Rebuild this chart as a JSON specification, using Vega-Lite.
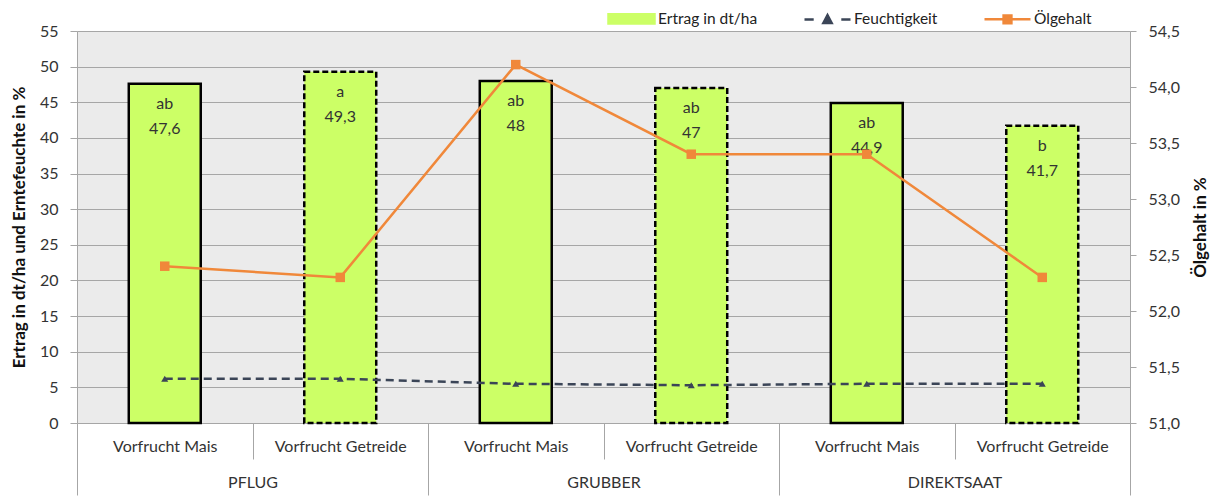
{
  "$schema": "https://vega.github.io/schema/vega-lite/v6.json",
  "width": 1053,
  "height": 392,
  "autosize": {"type": "none"},
  "padding": {"left": 77, "top": 31, "right": 89, "bottom": 73},
  "background": "white",
  "config": {
    "font": "Lato",
    "locale": {"number": {"decimal": ",", "thousands": ".", "grouping": [3], "currency": ["", " €"]}},
    "view": {"fill": "#ebebeb", "stroke": null},
    "axis": {
      "labelFont": "Lato", "labelFontSize": 16, "labelColor": "#333333",
      "titleFont": "Lato", "titleFontSize": 17, "titleFontWeight": "bold", "titleColor": "#111111",
      "domainColor": "#a6a6a6", "tickColor": "#a6a6a6", "gridColor": "#a6a6a6", "labelOverlap": false
    },
    "legend": {"labelFont": "Lato", "labelFontSize": 15.5, "labelColor": "#222222"}
  },
  "data": {
    "values": [
      {"id": "PFLUG · Vorfrucht Mais", "system": "PFLUG", "vorfrucht": "Vorfrucht Mais", "ertrag": 47.6, "sig": "ab", "feuchte": 6.2, "oel": 52.4},
      {"id": "PFLUG · Vorfrucht Getreide", "system": "PFLUG", "vorfrucht": "Vorfrucht Getreide", "ertrag": 49.3, "sig": "a", "feuchte": 6.2, "oel": 52.3},
      {"id": "GRUBBER · Vorfrucht Mais", "system": "GRUBBER", "vorfrucht": "Vorfrucht Mais", "ertrag": 48, "sig": "ab", "feuchte": 5.5, "oel": 54.2},
      {"id": "GRUBBER · Vorfrucht Getreide", "system": "GRUBBER", "vorfrucht": "Vorfrucht Getreide", "ertrag": 47, "sig": "ab", "feuchte": 5.3, "oel": 53.4},
      {"id": "DIREKTSAAT · Vorfrucht Mais", "system": "DIREKTSAAT", "vorfrucht": "Vorfrucht Mais", "ertrag": 44.9, "sig": "ab", "feuchte": 5.5, "oel": 53.4},
      {"id": "DIREKTSAAT · Vorfrucht Getreide", "system": "DIREKTSAAT", "vorfrucht": "Vorfrucht Getreide", "ertrag": 41.7, "sig": "b", "feuchte": 5.5, "oel": 52.3}
    ]
  },
  "layer": [
    {
      "encoding": {
        "x": {
          "field": "id", "type": "nominal", "sort": null,
          "scale": {"paddingInner": 0, "paddingOuter": 0},
          "axis": {
            "title": null, "orient": "bottom", "tickBand": "extent", "tickSize": 36,
            "labelPadding": -13, "labelBaseline": "middle", "labelAngle": 0,
            "labelExpr": "split(datum.value, ' · ')[1]", "domain": false, "grid": false
          }
        }
      },
      "layer": [
        {
          "layer": [
            {
              "mark": {"type": "bar", "width": {"band": 0.41}, "stroke": "black", "strokeWidth": 2.5},
              "encoding": {
                "y": {
                  "field": "ertrag", "type": "quantitative",
                  "scale": {"domain": [0, 55], "nice": false},
                  "axis": {
                    "title": "Ertrag in dt/ha und Erntefeuchte in %", "values": [0, 5, 10, 15, 20, 25, 30, 35, 40, 45, 50, 55],
                    "grid": true, "tickSize": 7, "labelPadding": 12, "titlePadding": 11
                  }
                },
                "color": {
                  "datum": "Ertrag in dt/ha",
                  "scale": {"domain": ["Ertrag in dt/ha", "Feuchtigkeit", "Ölgehalt"], "range": ["#ccff66", "#3b4557", "#f0883a"]},
                  "legend": {
                    "title": null, "orient": "none", "legendX": 530, "legendY": -37, "direction": "horizontal",
                    "symbolSize": 2116, "labelOffset": 2, "columnPadding": 41,
                    "encode": {
                      "symbols": {
                        "update": {
                          "shape": {"signal": "datum.value === 'Ertrag in dt/ha' ? 'M-1,-0.2H1V0.2H-1Z' : datum.value === 'Feuchtigkeit' ? 'M-1,0H-0.6M0.6,0H1M-0.18,0.16L0,-0.18L0.18,0.16Z' : 'M-1,0H1M-0.17,-0.17H0.17V0.17H-0.17Z'"},
                          "strokeWidth": {"value": 2.5},
                          "strokeOpacity": {"value": 1},
                          "fillOpacity": {"value": 1},
                          "strokeDash": {"value": []},
                          "opacity": {"value": 1}
                        }
                      }
                    }
                  }
                },
                "strokeDash": {
                  "field": "vorfrucht", "type": "nominal",
                  "scale": {"domain": ["Vorfrucht Mais", "Vorfrucht Getreide"], "range": [[1, 0], [6, 3]]},
                  "legend": null
                }
              }
            },
            {
              "mark": {"type": "text", "baseline": "top", "dy": 12, "fontSize": 16, "color": "#333333"},
              "encoding": {
                "y": {
                  "field": "ertrag", "type": "quantitative",
                  "axis": {
                    "title": "Ertrag in dt/ha und Erntefeuchte in %", "values": [0, 5, 10, 15, 20, 25, 30, 35, 40, 45, 50, 55],
                    "grid": true, "tickSize": 7, "labelPadding": 12, "titlePadding": 11
                  }
                },
                "text": {"field": "sig", "type": "nominal"}
              }
            },
            {
              "mark": {"type": "text", "baseline": "top", "dy": 37, "fontSize": 16, "color": "#333333"},
              "encoding": {
                "y": {
                  "field": "ertrag", "type": "quantitative",
                  "axis": {
                    "title": "Ertrag in dt/ha und Erntefeuchte in %", "values": [0, 5, 10, 15, 20, 25, 30, 35, 40, 45, 50, 55],
                    "grid": true, "tickSize": 7, "labelPadding": 12, "titlePadding": 11
                  }
                },
                "text": {"field": "ertrag", "type": "quantitative"}
              }
            },
            {
              "mark": {"type": "line", "strokeWidth": 2.5, "strokeDash": [8, 5], "point": {"filled": true, "shape": "triangle-up", "size": 50}},
              "encoding": {
                "y": {
                  "field": "feuchte", "type": "quantitative",
                  "axis": {
                    "title": "Ertrag in dt/ha und Erntefeuchte in %", "values": [0, 5, 10, 15, 20, 25, 30, 35, 40, 45, 50, 55],
                    "grid": true, "tickSize": 7, "labelPadding": 12, "titlePadding": 11
                  }
                },
                "color": {
                  "datum": "Feuchtigkeit",
                  "legend": {
                    "title": null, "orient": "none", "legendX": 530, "legendY": -37, "direction": "horizontal",
                    "symbolSize": 2116, "labelOffset": 2, "columnPadding": 41,
                    "encode": {
                      "symbols": {
                        "update": {
                          "shape": {"signal": "datum.value === 'Ertrag in dt/ha' ? 'M-1,-0.2H1V0.2H-1Z' : datum.value === 'Feuchtigkeit' ? 'M-1,0H-0.6M0.6,0H1M-0.18,0.16L0,-0.18L0.18,0.16Z' : 'M-1,0H1M-0.17,-0.17H0.17V0.17H-0.17Z'"},
                          "strokeWidth": {"value": 2.5},
                          "strokeOpacity": {"value": 1},
                          "fillOpacity": {"value": 1},
                          "strokeDash": {"value": []},
                          "opacity": {"value": 1}
                        }
                      }
                    }
                  }
                }
              }
            }
          ]
        },
        {
          "mark": {"type": "line", "strokeWidth": 2.5, "point": {"filled": true, "shape": "square", "size": 90}},
          "encoding": {
            "y": {
              "field": "oel", "type": "quantitative",
              "scale": {"domain": [51, 54.5], "nice": false, "zero": false},
              "axis": {
                "orient": "right", "title": "Ölgehalt in %", "titleAngle": 270,
                "values": [51, 51.5, 52, 52.5, 53, 53.5, 54, 54.5], "format": ".1f",
                "grid": false, "tickSize": 6, "labelPadding": 12, "titlePadding": 30
              }
            },
            "color": {
              "datum": "Ölgehalt",
              "legend": {
                "title": null, "orient": "none", "legendX": 530, "legendY": -37, "direction": "horizontal",
                "symbolSize": 2116, "labelOffset": 2, "columnPadding": 41,
                "encode": {
                  "symbols": {
                    "update": {
                      "shape": {"signal": "datum.value === 'Ertrag in dt/ha' ? 'M-1,-0.2H1V0.2H-1Z' : datum.value === 'Feuchtigkeit' ? 'M-1,0H-0.6M0.6,0H1M-0.18,0.16L0,-0.18L0.18,0.16Z' : 'M-1,0H1M-0.17,-0.17H0.17V0.17H-0.17Z'"},
                      "strokeWidth": {"value": 2.5},
                      "strokeOpacity": {"value": 1},
                      "fillOpacity": {"value": 1},
                      "strokeDash": {"value": []},
                      "opacity": {"value": 1}
                    }
                  }
                }
              }
            }
          }
        }
      ],
      "resolve": {"scale": {"y": "independent"}}
    },
    {
      "mark": {"type": "point", "opacity": 0},
      "encoding": {
        "x": {
          "field": "system", "type": "nominal",
          "scale": {"domain": ["PFLUG", "GRUBBER", "DIREKTSAAT"], "paddingInner": 0, "paddingOuter": 0},
          "axis": {
            "title": null, "orient": "bottom", "tickBand": "extent", "tickSize": 72,
            "labelPadding": -13, "labelBaseline": "middle", "labelAngle": 0, "domain": false, "grid": false
          }
        }
      }
    }
  ],
  "resolve": {"scale": {"x": "independent"}}
}
